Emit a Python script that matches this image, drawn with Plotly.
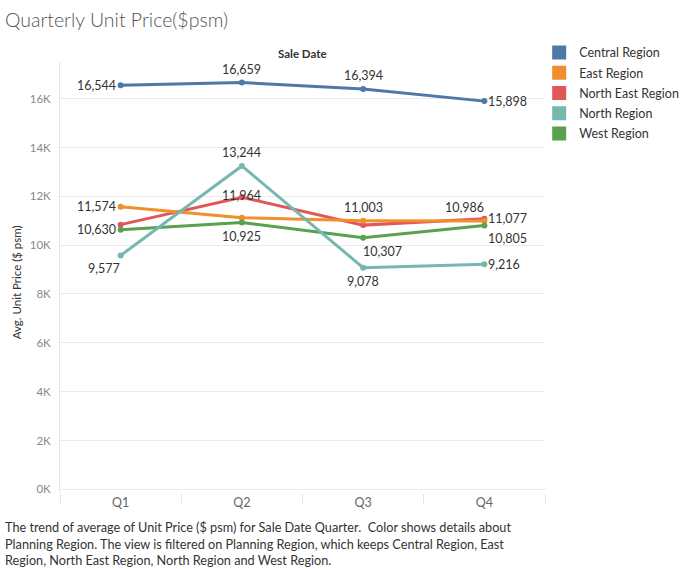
import plotly.graph_objects as go

quarters = ["Q1", "Q2", "Q3", "Q4"]
regions = ["Central Region", "East Region", "North East Region", "North Region", "West Region"]
central = [16544, 16659, 16394, 15898]
east = [11574, 11120, 11003, 10986]
north_east = [10840, 11964, 10820, 11077]
north = [9577, 13244, 9078, 9216]
west = [10630, 10925, 10307, 10805]
y_tickvals = [0, 2000, 4000, 6000, 8000, 10000, 12000, 14000, 16000]
y_ticktext = ["0K", "2K", "4K", "6K", "8K", "10K", "12K", "14K", "16K"]

series = {
    "Central Region": central,
    "East Region": east,
    "North East Region": north_east,
    "North Region": north,
    "West Region": west,
}
colors = {
    "Central Region": "#4e79a7",
    "East Region": "#f28e2b",
    "North East Region": "#e15759",
    "North Region": "#76b7b2",
    "West Region": "#59a14f",
}
# label placement per point (style only)
label_pos = {
    "Central Region": ["left", "top", "top", "right"],
    "East Region": ["left", None, "top", "topleft"],
    "North East Region": [None, "on", None, "right"],
    "North Region": ["bottomleft", "top", "bottom", "right"],
    "West Region": ["left", "bottom", "bottomright", "bottomright2"],
}
pos_style = {
    "left": dict(xanchor="right", yanchor="middle", xshift=-3, yshift=0),
    "right": dict(xanchor="left", yanchor="middle", xshift=2, yshift=0),
    "top": dict(xanchor="center", yanchor="bottom", xshift=0, yshift=4),
    "bottom": dict(xanchor="center", yanchor="top", xshift=0, yshift=-4),
    "topleft": dict(xanchor="center", yanchor="bottom", xshift=-20, yshift=4),
    "bottomleft": dict(xanchor="center", yanchor="top", xshift=-17, yshift=-4),
    "bottomright": dict(xanchor="center", yanchor="top", xshift=19, yshift=-4),
    "bottomright2": dict(xanchor="center", yanchor="top", xshift=23, yshift=-4),
    "on": dict(xanchor="center", yanchor="middle", xshift=0, yshift=2),
}

FONT = "Lato, 'Open Sans', sans-serif"
fig = go.Figure()

draw_order = ["North East Region", "East Region", "West Region", "North Region", "Central Region"]
for name in draw_order:
    fig.add_trace(go.Scatter(
        x=quarters, y=series[name], mode="lines+markers", name=name,
        line=dict(color=colors[name], width=3),
        marker=dict(color=colors[name], size=6),
        showlegend=False, hoverinfo="skip",
    ))

for name in regions:
    fig.add_trace(go.Scatter(
        x=[None], y=[None], mode="markers", name=name, legendgroup=name,
        marker=dict(color=colors[name], size=14, symbol="square"),
        showlegend=True,
    ))

annotations = []
for name in regions:
    for q, v, p in zip(quarters, series[name], label_pos[name]):
        if p is None:
            continue
        st = pos_style[p]
        annotations.append(dict(
            x=q, y=v, xref="x", yref="y", text=f"{v:,}", showarrow=False,
            font=dict(family=FONT, size=12.5, color="#333333"), **st,
        ))

annotations.append(dict(
    text="Sale Date", x=0.501, y=1.02, xref="paper", yref="paper",
    xanchor="center", yanchor="middle", showarrow=False,
    font=dict(family=FONT, size=11.5, color="#333333", weight="bold"),
))
annotations.append(dict(
    text="Avg. Unit Price ($ psm)", x=-0.0907, y=0.489, xref="paper", yref="paper",
    xanchor="center", yanchor="middle", textangle=-90, showarrow=False,
    font=dict(family=FONT, size=11.5, color="#333333"),
))
annotations.append(dict(
    text=("The trend of average of Unit Price ($ psm) for Sale Date Quarter.  Color shows details about<br>"
          "Planning Region. The view is filtered on Planning Region, which keeps Central Region, East<br>"
          "Region, North East Region, North Region and West Region."),
    x=-0.1175, y=-0.056, xref="paper", yref="paper", xanchor="left", yanchor="top",
    align="left", showarrow=False,
    font=dict(family=FONT, size=12.7, color="#333333"),
))

fig.update_layout(
    width=696, height=569,
    margin=dict(l=60, r=151, t=62, b=76),
    paper_bgcolor="white", plot_bgcolor="white",
    title=dict(text="Quarterly Unit Price($psm)", x=5 / 696, xref="container", xanchor="left",
               y=1 - 20 / 569, yref="container", yanchor="middle",
               font=dict(family=FONT, size=19.5, color="#555555", weight=300)),
    font=dict(family=FONT),
    showlegend=True,
    legend=dict(x=0.988, y=1.056, xanchor="left", yanchor="top", xref="paper", yref="paper",
                font=dict(family=FONT, size=12.5, color="#333333"),
                itemclick=False, tracegroupgap=1, bgcolor="rgba(0,0,0,0)"),
    annotations=annotations,
)
fig.update_xaxes(
    type="category", range=[-0.5, 3.5], tickson="boundaries", ticks="outside", ticklen=10,
    tickcolor="#e6e6e6", showgrid=False, showline=False, zeroline=False,
    tickfont=dict(family=FONT, size=12.5, color="#666666"),
)
fig.update_yaxes(
    range=[-150, 17500], tickvals=y_tickvals, ticktext=y_ticktext,
    showgrid=True, gridcolor="#ebebeb", gridwidth=1, zeroline=False,
    showline=True, linecolor="#e6e6e6", linewidth=1, ticks="", ticklabelstandoff=6,
    tickfont=dict(family=FONT, size=11.5, color="#888888"),
)

fig.write_html("out.html")
